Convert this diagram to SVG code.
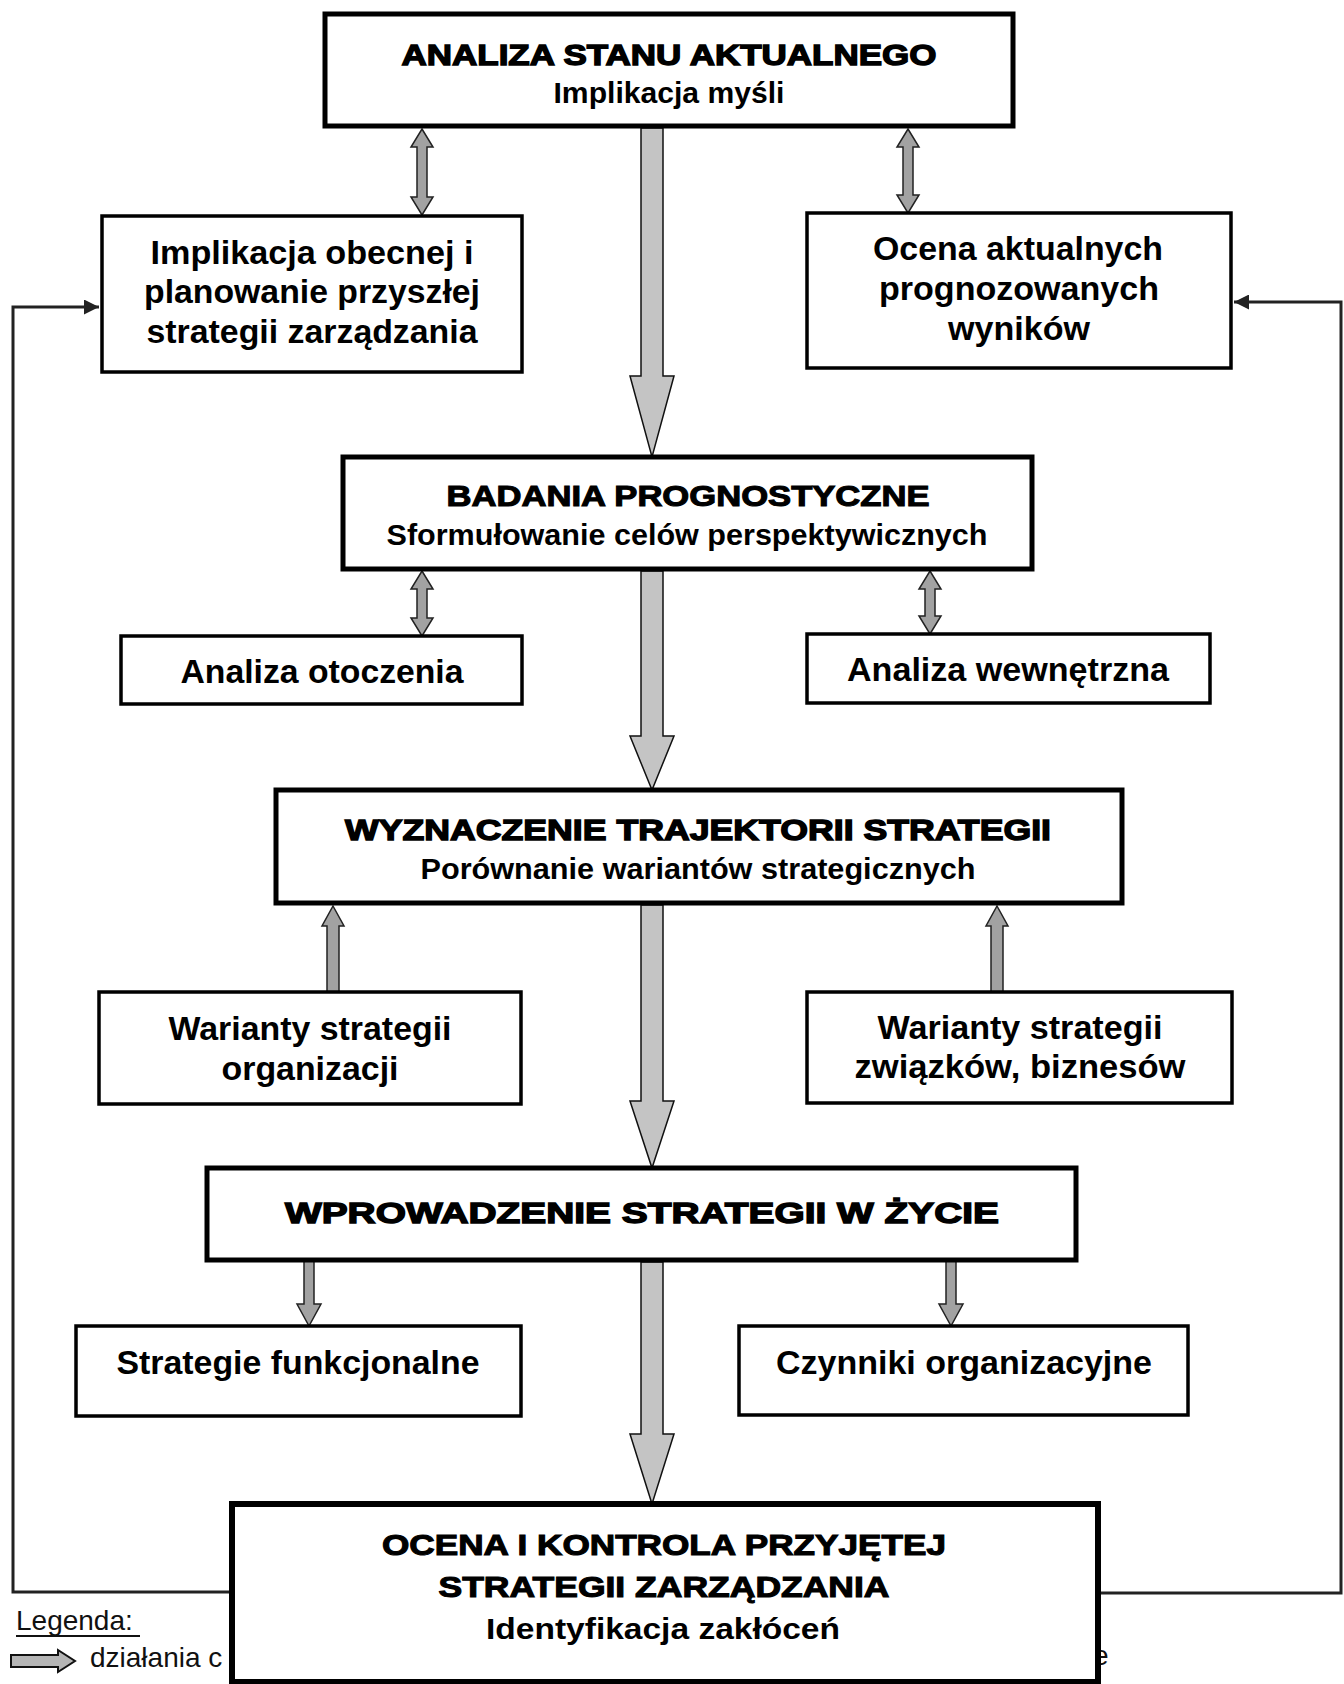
<svg xmlns="http://www.w3.org/2000/svg" width="1344" height="1684" viewBox="0 0 1344 1684">
  <style>
    .box { fill: #fff; stroke: #000; }
    .main { stroke-width: 5; }
    .sub { stroke-width: 3.5; }
    text { font-family: "Liberation Sans", Arial, sans-serif; fill: #000; text-anchor: middle; }
    .head { font-size: 30px; font-weight: bold; stroke: #000; stroke-width: 1.1; }
    .subt { font-size: 29px; font-weight: bold; }
    .body { font-size: 33px; font-weight: bold; }
    .big { fill: #c4c4c4; stroke: #111; stroke-width: 1.5; }
    .small { fill: #a2a2a2; stroke: #222; stroke-width: 1.5; }
    .fb { fill: none; stroke: #222; stroke-width: 3; }
    .leg { font-size: 28px; font-weight: normal; text-anchor: start; fill: #111; }
  </style>
  <defs>
    <marker id="tip" viewBox="0 0 10 10" refX="10" refY="5" markerWidth="5" markerHeight="5" orient="auto" markerUnits="strokeWidth">
      <path d="M0,0 L10,5 L0,10 z" fill="#222"/>
    </marker>
  </defs>

  <!-- feedback loops from the control stage back to the first row -->
  <g id="connectors">
    <path class="fb" d="M232,1592 H13 V307 H99" marker-end="url(#tip)"/>
    <path class="fb" d="M1099,1593 H1341 V302 H1234" marker-end="url(#tip)"/>

    <!-- main flow arrows -->
    <polygon class="big" points="641,128 663,128 663,376 674,376 652,457 630,376 641,376"/>
    <polygon class="big" points="641,571 663,571 663,736 674,736 652,790 630,736 641,736"/>
    <polygon class="big" points="641,905 663,905 663,1101 674,1101 652,1168 630,1101 641,1101"/>
    <polygon class="big" points="641,1262 663,1262 663,1434 674,1434 652,1504 630,1434 641,1434"/>

    <!-- two-way links -->
    <polygon class="small" points="422,129 433,147 427,147 427,197 433,197 422,215 411,197 417,197 417,147 411,147"/>
    <polygon class="small" points="908,129 919,147 913,147 913,195 919,195 908,213 897,195 903,195 903,147 897,147"/>
    <polygon class="small" points="422,571 433,589 427,589 427,618 433,618 422,636 411,618 417,618 417,589 411,589"/>
    <polygon class="small" points="930,571 941,589 935,589 935,616 941,616 930,634 919,616 925,616 925,589 919,589"/>

    <!-- variants feeding the trajectory -->
    <polygon class="small" points="333,906 344,926 339,926 339,992 327,992 327,926 322,926"/>
    <polygon class="small" points="997,906 1008,926 1003,926 1003,992 991,992 991,926 986,926"/>

    <!-- implementation outputs -->
    <polygon class="small" points="304,1261 314,1261 314,1304 321,1304 309,1326 297,1304 304,1304"/>
    <polygon class="small" points="946,1261 956,1261 956,1304 963,1304 951,1326 939,1304 946,1304"/>
  </g>

  <g id="n-analiza">
    <rect class="box main" x="325" y="14" width="688" height="112"/>
    <text class="head" x="669" y="65" textLength="535" lengthAdjust="spacingAndGlyphs" style="stroke-width:1.4">ANALIZA STANU AKTUALNEGO</text>
    <text class="subt" x="669" y="103" textLength="231" lengthAdjust="spacingAndGlyphs">Implikacja myśli</text>
  </g>

  <g id="n-implikacja">
    <rect class="box sub" x="102" y="216" width="420" height="156"/>
    <text class="body" x="312" y="264" textLength="323" lengthAdjust="spacingAndGlyphs">Implikacja obecnej i</text>
    <text class="body" x="312" y="303" textLength="336" lengthAdjust="spacingAndGlyphs">planowanie przyszłej</text>
    <text class="body" x="312" y="343" textLength="331" lengthAdjust="spacingAndGlyphs">strategii zarządzania</text>
  </g>

  <g id="n-ocena-wynikow">
    <rect class="box sub" x="807" y="213" width="424" height="155"/>
    <text class="body" x="1018" y="260" textLength="290" lengthAdjust="spacingAndGlyphs">Ocena aktualnych</text>
    <text class="body" x="1019" y="300" textLength="280" lengthAdjust="spacingAndGlyphs">prognozowanych</text>
    <text class="body" x="1019" y="340" textLength="142" lengthAdjust="spacingAndGlyphs">wyników</text>
  </g>

  <g id="n-badania">
    <rect class="box main" x="343" y="457" width="689" height="112"/>
    <text class="head" x="688" y="506" textLength="483" lengthAdjust="spacingAndGlyphs">BADANIA PROGNOSTYCZNE</text>
    <text class="subt" x="687" y="545" textLength="601" lengthAdjust="spacingAndGlyphs">Sformułowanie celów perspektywicznych</text>
  </g>

  <g id="n-otoczenie">
    <rect class="box sub" x="121" y="636" width="401" height="68"/>
    <text class="body" x="322" y="683" textLength="283" lengthAdjust="spacingAndGlyphs">Analiza otoczenia</text>
  </g>

  <g id="n-wewnetrzna">
    <rect class="box sub" x="807" y="634" width="403" height="69"/>
    <text class="body" x="1008" y="681" textLength="322" lengthAdjust="spacingAndGlyphs">Analiza wewnętrzna</text>
  </g>

  <g id="n-trajektoria">
    <rect class="box main" x="276" y="790" width="846" height="113"/>
    <text class="head" x="698" y="840" textLength="706" lengthAdjust="spacingAndGlyphs" style="stroke-width:1.4">WYZNACZENIE TRAJEKTORII STRATEGII</text>
    <text class="subt" x="698" y="879" textLength="555" lengthAdjust="spacingAndGlyphs">Porównanie wariantów strategicznych</text>
  </g>

  <g id="n-warianty-org">
    <rect class="box sub" x="99" y="992" width="422" height="112"/>
    <text class="body" x="310" y="1040" textLength="283" lengthAdjust="spacingAndGlyphs">Warianty strategii</text>
    <text class="body" x="310" y="1080" textLength="177" lengthAdjust="spacingAndGlyphs">organizacji</text>
  </g>

  <g id="n-warianty-biz">
    <rect class="box sub" x="807" y="992" width="425" height="111"/>
    <text class="body" x="1020" y="1039" textLength="285" lengthAdjust="spacingAndGlyphs">Warianty strategii</text>
    <text class="body" x="1020" y="1078" textLength="331" lengthAdjust="spacingAndGlyphs">związków, biznesów</text>
  </g>

  <g id="n-wprowadzenie">
    <rect class="box main" x="207" y="1168" width="869" height="92"/>
    <text class="head" x="642" y="1223" textLength="714" lengthAdjust="spacingAndGlyphs" style="stroke-width:1.4">WPROWADZENIE STRATEGII W ŻYCIE</text>
  </g>

  <g id="n-funkcjonalne">
    <rect class="box sub" x="76" y="1326" width="445" height="90"/>
    <text class="body" x="298" y="1374" textLength="363" lengthAdjust="spacingAndGlyphs">Strategie funkcjonalne</text>
  </g>

  <g id="n-czynniki">
    <rect class="box sub" x="739" y="1326" width="449" height="89"/>
    <text class="body" x="964" y="1374" textLength="376" lengthAdjust="spacingAndGlyphs">Czynniki organizacyjne</text>
  </g>

  <!-- legend, partly hidden behind the last stage box -->
  <g id="legend">
    <text class="leg" x="16" y="1630">Legenda:</text>
    <line x1="16" y1="1636" x2="140" y2="1636" stroke="#111" stroke-width="2"/>
    <polygon points="11,1655 58,1655 58,1650 75,1661 58,1672 58,1667 11,1667" fill="#b5b5b5" stroke="#111" stroke-width="2"/>
    <text class="leg" x="90" y="1667">działania c</text>
    <text class="leg" x="1093" y="1665">e</text>
  </g>

  <g id="n-kontrola">
    <rect class="box" x="232" y="1504" width="866" height="178" stroke-width="6"/>
    <text class="head" x="664" y="1555" textLength="564" lengthAdjust="spacingAndGlyphs">OCENA I KONTROLA PRZYJĘTEJ</text>
    <text class="head" x="664" y="1597" textLength="451" lengthAdjust="spacingAndGlyphs">STRATEGII ZARZĄDZANIA</text>
    <text class="subt" x="663" y="1639" textLength="354" lengthAdjust="spacingAndGlyphs">Identyfikacja zakłóceń</text>
  </g>
</svg>
